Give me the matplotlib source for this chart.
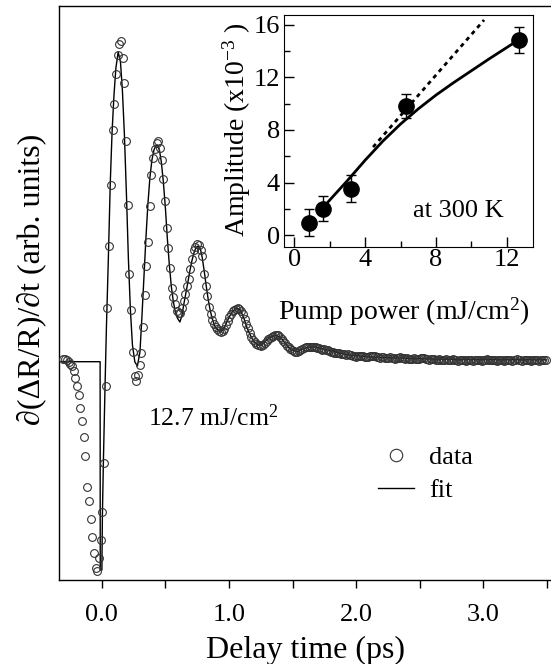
import numpy as np
import matplotlib.pyplot as plt
from matplotlib.ticker import FixedLocator

plt.rcParams['font.family'] = ['Liberation Serif', 'DejaVu Serif']
plt.rcParams['mathtext.fontset'] = 'custom'
plt.rcParams['mathtext.rm'] = 'Liberation Serif'
plt.rcParams['mathtext.it'] = 'Liberation Serif:italic'

# main trace: delay grid (ps) and measured signal (arb. units)
t_start = -0.30
t_step = 0.0133
signal = [
    0.013, 0.006, -0.004, -0.017, -0.035, -0.061, -0.114, -0.178, -0.255, -0.354,
    -0.476, -0.606, -0.771, -0.96, -1.27, -1.41, -1.594, -1.768, -1.934, -2.075,
    -2.11, -1.975, -1.80, -1.52, -1.025, -0.255, 0.52, 1.14, 1.75, 2.30,
    2.56, 2.86, 3.05, 3.16, 3.19, 3.02, 2.77, 2.19, 1.55, 0.86,
    0.50, 0.08, -0.16, -0.21, -0.15, -0.05, 0.07, 0.33, 0.65, 0.94,
    1.18, 1.54, 1.85, 2.02, 2.11, 2.17, 2.19, 2.12, 2.00, 1.81,
    1.59, 1.32, 1.12, 0.92, 0.72, 0.63, 0.56, 0.49, 0.47, 0.47,
    0.52, 0.59, 0.66, 0.745, 0.81, 0.91, 1.01, 1.10, 1.13, 1.16,
    1.15, 1.10, 1.04, 0.86, 0.74, 0.64, 0.53, 0.46, 0.405, 0.365,
    0.33, 0.31, 0.295, 0.285, 0.29, 0.315, 0.35, 0.39, 0.43, 0.46,
    0.49, 0.505, 0.515, 0.52, 0.515, 0.495, 0.46, 0.415, 0.365, 0.32,
    0.275, 0.235, 0.205, 0.18, 0.165, 0.155, 0.15, 0.145, 0.155, 0.175,
    0.195, 0.21, 0.225, 0.235, 0.245, 0.25, 0.255, 0.25, 0.235, 0.215,
    0.19, 0.17, 0.145, 0.13, 0.11, 0.10, 0.09, 0.085, 0.085, 0.095,
    0.105, 0.115, 0.12, 0.13, 0.135, 0.13, 0.13, 0.135, 0.13, 0.13,
    0.125, 0.12, 0.115, 0.105, 0.11, 0.105, 0.10, 0.09, 0.085, 0.08,
    0.075, 0.07, 0.075, 0.07, 0.065, 0.06, 0.06, 0.055, 0.06, 0.055,
    0.05, 0.045, 0.04, 0.035, 0.04, 0.045, 0.04, 0.04, 0.035, 0.03,
    0.035, 0.04, 0.045, 0.04, 0.04, 0.035, 0.03, 0.025, 0.03, 0.03,
    0.025, 0.02, 0.025, 0.03, 0.025, 0.02, 0.015, 0.02, 0.025, 0.03,
    0.025, 0.02, 0.015, 0.02, 0.015, 0.01, 0.015, 0.02, 0.015, 0.01,
    0.015, 0.02, 0.025, 0.02, 0.015, 0.01, 0.005, 0.01, 0.015, 0.01,
    0.005, 0.005, 0.01, 0.005, 0.0, 0.005, 0.01, 0.005, 0.0, 0.005,
    0.01, 0.005, 0.0, -0.005, 0.0, 0.005, 0.005, 0.0, -0.005, 0.0,
    0.005, 0.0, -0.005, 0.0, 0.005, 0.005, 0.0, -0.005, 0.0, 0.005,
    0.01, 0.005, 0.0, 0.0, 0.005, 0.0, -0.005, 0.0, 0.005, 0.0,
    -0.005, 0.0, 0.005, 0.005, 0.0, -0.005, 0.0, 0.005, 0.01, 0.005,
    0.0, -0.005, 0.0, 0.0, 0.005, 0.0, -0.005, 0.0, 0.005, 0.005,
    0.0, -0.005, 0.0, 0.005, 0.005, 0.005,
]
delay = np.round(t_start + t_step * np.arange(len(signal)), 4)

# fit curve vertices
fit_t = [
    -0.314, -0.012, -0.011, 0.002, 0.006, 0.014, 0.026, 0.038, 0.052, 0.068,
    0.082, 0.097, 0.112, 0.130, 0.148, 0.163, 0.179, 0.195, 0.210, 0.226,
    0.242, 0.261, 0.281, 0.301, 0.316, 0.332, 0.348, 0.363, 0.379, 0.395,
    0.411, 0.425, 0.438, 0.454, 0.469, 0.485, 0.501, 0.516, 0.532, 0.548,
    0.564, 0.579, 0.595, 0.615, 0.630, 0.646, 0.662, 0.678, 0.693, 0.709,
    0.725, 0.740, 0.758, 0.776, 0.791, 0.807, 0.823, 0.838, 0.854, 0.870,
    0.889, 0.913, 0.936, 0.960, 0.983, 1.007, 1.030, 1.054, 1.074, 1.093,
    1.117, 1.140, 1.164, 1.188, 1.211, 1.235, 1.254, 1.274, 1.297, 1.321,
    1.344, 1.376, 1.399, 1.423, 1.446, 1.470, 1.494, 1.517, 1.541, 1.564,
    1.596, 1.635, 1.682, 1.729, 1.792, 1.871, 1.949, 2.067, 2.185, 2.342,
    2.577, 2.891, 3.496,
]
fit_v = [
    -0.017, -0.017, -2.10, -2.10, -1.55, -1.00, -0.30, 0.35, 0.98, 1.78,
    2.28, 2.65, 2.92, 3.08, 2.98, 2.70, 2.25, 1.65, 1.02, 0.50,
    0.15, -0.02, -0.06, 0.08, 0.42, 0.82, 1.22, 1.55, 1.82, 2.00,
    2.10, 2.14, 2.15, 2.10, 1.98, 1.78, 1.52, 1.22, 0.95, 0.73,
    0.58, 0.48, 0.42, 0.38, 0.44, 0.56, 0.67, 0.78, 0.89, 0.99,
    1.07, 1.12, 1.14, 1.11, 1.02, 0.88, 0.73, 0.60, 0.49, 0.41,
    0.34, 0.30, 0.28, 0.31, 0.38, 0.44, 0.49, 0.51, 0.515, 0.49,
    0.42, 0.33, 0.26, 0.20, 0.165, 0.15, 0.145, 0.17, 0.20, 0.225,
    0.24, 0.245, 0.23, 0.20, 0.16, 0.125, 0.10, 0.09, 0.085, 0.10,
    0.12, 0.13, 0.13, 0.115, 0.095, 0.07, 0.05, 0.035, 0.025, 0.02,
    0.01, 0.005, 0.002,
]

# inset: amplitude vs pump power
power = [0.85, 1.6, 3.2, 6.3, 12.7]
amplitude = [0.96, 2.02, 3.55, 9.83, 14.84]
amp_err = [1.0, 0.95, 1.0, 0.9, 1.0]
curve_p = [1.92, 3.0, 4.0, 5.0, 6.0, 7.0, 8.0, 9.0, 10.0, 11.0, 12.66]
curve_a = [2.55, 4.15, 5.7, 7.15, 8.45, 9.6, 10.65, 11.6, 12.5, 13.4, 14.84]
linear_p = [4.45, 10.72]
linear_a = [6.7, 16.36]

W, H = 551, 664
fig = plt.figure(figsize=(W / 100, H / 100), dpi=100)

ax = fig.add_axes([58.5 / W, 84 / H, 1 - 58.5 / W, 574 / H])
ax.plot(fit_t, fit_v, color='black', lw=1.0, label='fit', zorder=2)
ax.plot(delay, signal, 'o', ls='none', mfc='none', mec='0.2', ms=5.6, mew=0.8,
        label='data', zorder=3)
ax.set_xlim(-0.339, 3.531)
ax.set_ylim(-2.20, 3.54)
ax.spines['right'].set_visible(False)
for s in ['left', 'top', 'bottom']:
    ax.spines[s].set_linewidth(1.0)
ax.set_yticks([])
ax.set_xticks([0, 1, 2, 3])
ax.set_xticklabels(['0.0', '1.0', '2.0', '3.0'])
ax.xaxis.set_minor_locator(FixedLocator([0.5, 1.5, 2.5, 3.5]))
ax.tick_params(axis='x', which='both', direction='out', length=5.5, width=1,
               labelsize=19, pad=12, top=False)

fig.text(31 / W, 1 - 279 / H, '\u2202(\u0394R/R)/\u2202t (arb. units)',
         rotation=90, ha='center', va='center', fontsize=23)
fig.text(305.5 / W, 1 - 658 / H, 'Delay time (ps)', ha='center',
         va='baseline', fontsize=23)
fig.text(148 / W, 1 - 426 / H, '12.7 mJ/cm$^2$', ha='left', va='baseline',
         fontsize=18.5)

h, l = ax.get_legend_handles_labels()
ax.legend([h[1], h[0]], [l[1], l[0]], loc='upper left',
          bbox_to_anchor=(378 / W, 1 - 446 / H), bbox_transform=fig.transFigure,
          frameon=False, borderpad=0, borderaxespad=0, handlelength=1.35,
          handletextpad=0.6, labelspacing=0.35, markerscale=1.6, fontsize=19)

# inset
ax2 = fig.add_axes([284 / W, 1 - 246.7 / H, 249.3 / W, 231.7 / H])
ax2.plot(linear_p, linear_a, color='black', lw=2, ls=(0, (1.5, 1.5)))
ax2.plot(curve_p, curve_a, color='black', lw=2)
ax2.errorbar(power, amplitude, yerr=amp_err, fmt='o', color='black', ms=11,
             elinewidth=1, capsize=3.5, capthick=1)
ax2.set_xlim(-0.58, 13.5)
ax2.set_ylim(-0.87, 16.74)
ax2.set_xticks([0, 4, 8, 12])
ax2.set_yticks([0, 4, 8, 12, 16])
ax2.xaxis.set_minor_locator(FixedLocator([2, 6, 10]))
ax2.yaxis.set_minor_locator(FixedLocator([2, 6, 10, 14]))
ax2.tick_params(which='both', direction='in', labelsize=19, width=1)
ax2.tick_params(which='major', length=7)
ax2.tick_params(which='minor', length=4)
ax2.tick_params(axis='x', pad=2)
ax2.tick_params(axis='y', pad=3)
fig.text(404 / W, 1 - 320 / H, 'Pump power (mJ/cm$^2$)', ha='center',
         va='baseline', fontsize=20)
fig.text(237 / W, 1 - 130 / H, 'Amplitude (x10$^{-3}$ )', rotation=90,
         ha='center', va='center', fontsize=20)
fig.text(413 / W, 1 - 216.7 / H, 'at 300 K', ha='left', va='baseline',
         fontsize=19)

fig.savefig('out.png', dpi=100)
